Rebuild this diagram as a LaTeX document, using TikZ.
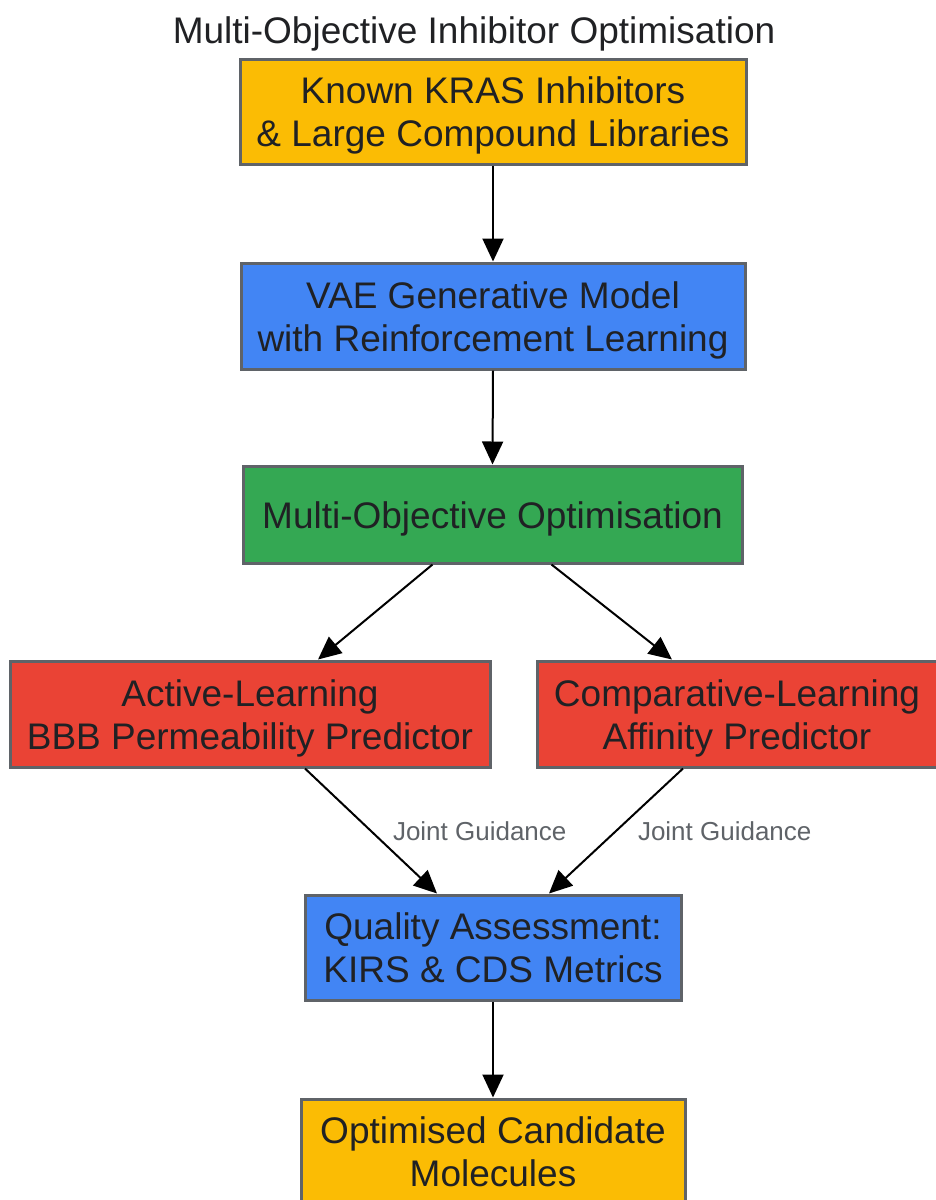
\documentclass[tikz,border=0pt]{standalone}
\usepackage{fontspec}
\setmainfont{Liberation Sans}
\usetikzlibrary{arrows.meta,calc}
\definecolor{gyellow}{HTML}{FBBC04}
\definecolor{gblue}{HTML}{4285F4}
\definecolor{ggreen}{HTML}{34A853}
\definecolor{gred}{HTML}{EA4335}
\definecolor{gborder}{HTML}{5F6368}
\definecolor{gtext}{HTML}{202124}
\definecolor{glabel}{HTML}{5F6368}
\newcommand{\boxtxt}[1]{\raisebox{-5pt}[\height][\depth]{\begin{tabular}{@{}c@{}}#1\end{tabular}}}
\tikzset{
  x=1pt,y=1pt,
  box/.style={draw=gborder,line width=3pt,align=center,inner sep=0pt,
    text=gtext,font=\fontsize{37}{43}\selectfont,minimum height=105pt},
  conn/.style={line width=2pt,-{Triangle[length=23pt,width=21pt]}},
  lbl/.style={text=glabel,font=\fontsize{26}{30}\selectfont,inner sep=0pt}
}
\begin{document}
\begin{tikzpicture}
\useasboundingbox (0,0) rectangle (935,-1200);
\node[text=gtext,font=\fontsize{37}{43}\selectfont,inner sep=0pt] (title) at (474,-34) {Multi-Objective Inhibitor Optimisation};
\node[box,fill=gyellow,minimum width=506pt] (k) at (493,-111.5) {\boxtxt{Known KRAS Inhibitors\\\& Large Compound Libraries}};
\node[box,fill=gblue,minimum width=504pt,minimum height=106pt] (v) at (493,-316) {\boxtxt{VAE Generative Model\\with Reinforcement Learning}};
\node[box,fill=ggreen,minimum width=499pt,minimum height=97pt] (m) at (492.5,-514.5) {\boxtxt{Multi-Objective Optimisation}};
\node[box,fill=gred,minimum width=480pt,minimum height=106pt] (a) at (250,-714) {\boxtxt{Active-Learning\\BBB Permeability Predictor}};
\node[box,fill=gred,minimum width=400pt,minimum height=106pt] (c) at (737,-714) {\boxtxt{Comparative-Learning\\Affinity Predictor}};
\node[box,fill=gblue,minimum width=376pt] (q) at (493,-947.5) {\boxtxt{Quality Assessment:\\KIRS \& CDS Metrics}};
\node[box,fill=gyellow,minimum width=384pt] (o) at (493,-1151.5) {\boxtxt{Optimised Candidate\\Molecules}};
\draw[conn] (k.south) -- (v.north);
\draw[conn] (v.south) -- (m.north);
\draw[conn] ([xshift=-60pt]m.south) -- ([xshift=68pt]a.north);
\draw[conn] ([xshift=59pt]m.south) -- ([xshift=-65pt]c.north);
\draw[conn] ([xshift=55pt]a.south) -- node[lbl,midway,anchor=west,xshift=21pt] {Joint Guidance} ([xshift=-56pt]q.north);
\draw[conn] ([xshift=-54pt]c.south) -- node[lbl,midway,anchor=west,xshift=21pt] {Joint Guidance} ([xshift=56pt]q.north);
\draw[conn] (q.south) -- (o.north);
\end{tikzpicture}
\end{document}
